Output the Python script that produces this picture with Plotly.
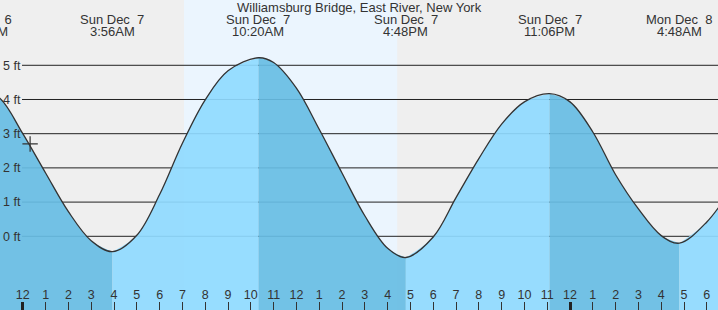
import plotly.graph_objects as go

# ---- data (hours from Sun Dec 7 00:00, tide height in ft, read at hour ticks + extremes) ----
hours = [-1.8, -1.0, 0.0, 1.0, 2.0, 3.0, 3.933, 5.0, 6.0, 7.0, 8.0, 9.0,
         10.333, 11.0, 12.0, 13.0, 14.0, 15.0, 16.0, 16.8, 18.0, 19.0, 20.0,
         21.0, 22.0, 23.1, 24.0, 25.0, 26.0, 27.0, 28.0, 28.8, 30.0, 31.0]
heights = [4.28, 4.03, 3.00, 1.85, 0.72, -0.13, -0.45, 0.03, 1.22, 2.72, 3.99, 4.84,
           5.22, 5.08, 4.33, 3.13, 1.85, 0.60, -0.35, -0.62, -0.02, 1.13, 2.27,
           3.28, 3.93, 4.17, 3.93, 3.05, 1.80, 0.80, 0.02, -0.20, 0.42, 1.32]

ext_hours = [-1.8, 3.933, 10.333, 16.8, 23.1, 28.8]
ext_dates = ["Sat Dec\u00a0\u00a06", "Sun Dec\u00a0\u00a07", "Sun Dec\u00a0\u00a07",
             "Sun Dec\u00a0\u00a07", "Sun Dec\u00a0\u00a07", "Mon Dec\u00a0\u00a08"]
ext_times = ["10:12PM", "3:56AM", "10:20AM", "4:48PM", "11:06PM", "4:48AM"]

hour_ticks = list(range(-1, 31))
hour_labels = [str((h % 12) or 12) for h in hour_ticks]
midnights = [0, 24]
ft_ticks = [0, 1, 2, 3, 4, 5]
ft_labels = [f"{v} ft" for v in ft_ticks]

sunrise, sunset = 7.07, 16.42
now_h, now_ft = 0.32, 2.70
title = "Williamsburg Bridge, East River, New York"

# ---- styling ----
W, H = 718, 310
XR = [-1.0, 30.49]
YR = [-2.155, 6.909]
DARK = "rgba(103,189,228,0.92)"
LIGHT = "rgba(143,218,255,0.92)"
TXT = "#333333"
FONT = "Liberation Sans, Arial, sans-serif"
SMOOTH = 1.0

fig = go.Figure()

# fills split at extremes: falling tide dark, rising tide light
idx = [i for i, h in enumerate(hours) if h in ext_hours] + [len(hours) - 1]
for a, b in zip(idx[:-1], idx[1:]):
    xs = hours[a:b + 1]
    ys = heights[a:b + 1]
    falling = ys[-1] < ys[0]
    fig.add_trace(go.Scatter(x=[xs[0], xs[-1]], y=[YR[0] - 1, YR[0] - 1], mode="lines",
                             line=dict(width=0), hoverinfo="skip", showlegend=False))
    fig.add_trace(go.Scatter(x=xs, y=ys, mode="lines",
                             line=dict(width=0, shape="spline", smoothing=SMOOTH),
                             fill="tonexty", fillcolor=DARK if falling else LIGHT,
                             hoverinfo="skip", showlegend=False))

fig.add_trace(go.Scatter(x=hours, y=heights, mode="lines",
                         line=dict(color="#333333", width=1.3, shape="spline",
                                   smoothing=SMOOTH),
                         hoverinfo="skip", showlegend=False))
fig.add_trace(go.Scatter(x=[now_h], y=[now_ft], mode="markers",
                         marker=dict(symbol="cross-thin", size=11,
                                     line=dict(color="#333333", width=1.2)),
                         hoverinfo="skip", showlegend=False))
fig.add_trace(go.Scatter(x=midnights, y=[None, None], xaxis="x2", mode="markers",
                         hoverinfo="skip", showlegend=False))

shapes = [dict(type="rect", xref="x", yref="paper", x0=sunrise, x1=sunset, y0=0, y1=1,
               fillcolor="#ebf5fe", line=dict(width=0), layer="below")]
for v in ft_ticks:
    shapes.append(dict(type="line", xref="paper", x0=22 / W, x1=1, yref="y", y0=v, y1=v,
                       line=dict(color="#222222", width=1), layer="between"))

annotations = [dict(text=title, xref="paper", yref="paper", x=0.5, y=1 - 7.5 / H,
                    xanchor="center", yanchor="middle", showarrow=False,
                    font=dict(size=13, color=TXT))]
for h, d, t in zip(ext_hours, ext_dates, ext_times):
    if XR[0] <= h <= XR[1]:
        xr, xv = "x", h
    else:
        xr, xv = "paper", (h - XR[0]) / (XR[1] - XR[0])
    annotations.append(dict(text=d, xref=xr, yref="paper", x=xv, y=1 - 19.5 / H,
                            xanchor="center", yanchor="middle", showarrow=False,
                            font=dict(size=13, color=TXT)))
    annotations.append(dict(text=t, xref=xr, yref="paper", x=xv, y=1 - 31.7 / H,
                            xanchor="center", yanchor="middle", showarrow=False,
                            font=dict(size=13, color=TXT)))

fig.update_layout(
    width=W, height=H, margin=dict(l=0, r=0, t=0, b=0),
    paper_bgcolor="#efefef", plot_bgcolor="#efefef",
    font=dict(family=FONT, color=TXT, size=12),
    showlegend=False, hovermode=False,
    shapes=shapes, annotations=annotations,
    xaxis=dict(range=XR, tickvals=hour_ticks, ticktext=hour_labels, ticks="inside",
               ticklen=8, tickwidth=1, tickcolor="#333333", ticklabelposition="inside",
               tickfont=dict(size=12.5, color=TXT), showgrid=False, zeroline=False,
               showline=False, fixedrange=True),
    xaxis2=dict(range=XR, overlaying="x", anchor="y", side="bottom", tickvals=midnights,
                ticks="inside", ticklen=8, tickwidth=3, tickcolor="#222222",
                showticklabels=False, showgrid=False, zeroline=False, showline=False,
                fixedrange=True),
    yaxis=dict(range=YR, tickvals=ft_ticks, ticktext=ft_labels, ticklabelposition="inside",
               ticks="", tickfont=dict(size=12.5, color=TXT), showgrid=False,
               zeroline=False, showline=False, fixedrange=True),
)

fig.write_html("out.html")
